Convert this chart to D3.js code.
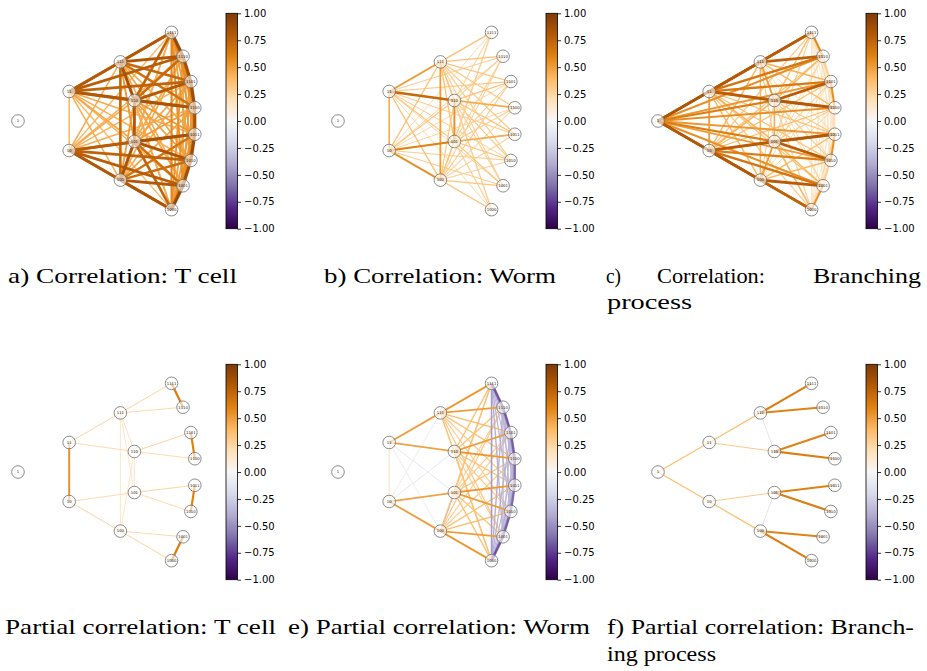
<!DOCTYPE html>
<html>
<head>
<meta charset="utf-8">
<script src="https://cdn.jsdelivr.net/npm/d3@7"></script>
<style>
  body { margin: 0; background: #fff; }
  svg { display: block; }
  .cap { font-family: "Liberation Serif", "Times New Roman", Times, serif; font-size: 22px; font-weight: 400; }
</style>
</head>
<body>
<svg id="fig" width="927" height="671"></svg>
<script>
// cell labels of the binary lineage tree (root "1", children append 0/1)
var nodeNames = ["1", "10", "11", "100", "101", "110", "111",
                 "1000", "1001", "1010", "1011", "1100", "1101", "1110", "1111"];

// upper triangles: row i holds the values for nodes i+1 .. 14 (same order as nodeNames)
var corrTcell = [
  [0, 0, 0, 0, 0, 0, 0, 0, 0, 0, 0, 0, 0, 0],
  [0.42, 0.80, 0.78, 0.45, 0.44, 0.76, 0.78, 0.75, 0.77, 0.44, 0.42, 0.43, 0.40],
  [0.43, 0.46, 0.80, 0.79, 0.40, 0.42, 0.43, 0.45, 0.77, 0.75, 0.78, 0.76],
  [0.83, 0.50, 0.72, 0.82, 0.80, 0.70, 0.66, 0.48, 0.45, 0.46, 0.44],
  [0.80, 0.52, 0.74, 0.68, 0.82, 0.84, 0.50, 0.47, 0.45, 0.44],
  [0.84, 0.45, 0.47, 0.48, 0.52, 0.83, 0.80, 0.70, 0.74],
  [0.43, 0.44, 0.47, 0.45, 0.68, 0.72, 0.82, 0.80],
  [0.90, 0.62, 0.55, 0.50, 0.48, 0.52, 0.58],
  [0.86, 0.60, 0.52, 0.50, 0.48, 0.54],
  [0.88, 0.58, 0.52, 0.50, 0.48],
  [0.85, 0.60, 0.52, 0.50],
  [0.88, 0.62, 0.56],
  [0.86, 0.60],
  [0.90]
];

var corrWorm = [
  [0, 0, 0, 0, 0, 0, 0, 0, 0, 0, 0, 0, 0, 0],
  [0.45, 0.55, 0.60, 0.32, 0.36, 0.28, 0.30, 0.29, 0.28, 0.27, 0.26, 0.27, 0.25],
  [0.36, 0.32, 0.72, 0.50, 0.26, 0.27, 0.28, 0.29, 0.30, 0.32, 0.29, 0.27],
  [0.36, 0.32, 0.50, 0.32, 0.34, 0.30, 0.29, 0.28, 0.30, 0.29, 0.28],
  [0.55, 0.36, 0.30, 0.32, 0.34, 0.45, 0.30, 0.29, 0.28, 0.29],
  [0.36, 0.29, 0.30, 0.32, 0.34, 0.45, 0.36, 0.30, 0.28],
  [0.28, 0.29, 0.30, 0.32, 0.32, 0.34, 0.36, 0.35],
  [0, 0, 0, 0, 0, 0, 0],
  [0, 0, 0, 0, 0, 0],
  [0, 0, 0, 0, 0],
  [0, 0, 0, 0],
  [0, 0, 0],
  [0, 0],
  [0]
];

var corrBranching = [
  [0.80, 0.82, 0.68, 0.62, 0.62, 0.70, 0.70, 0.55, 0.50, 0.52, 0.55, 0.52, 0.55, 0.72],
  [0.50, 0.80, 0.78, 0.42, 0.40, 0.65, 0.66, 0.62, 0.64, 0.36, 0.35, 0.34, 0.33],
  [0.40, 0.42, 0.78, 0.80, 0.33, 0.34, 0.35, 0.36, 0.63, 0.64, 0.66, 0.65],
  [0.50, 0.30, 0.42, 0.75, 0.78, 0.40, 0.38, 0.25, 0.24, 0.26, 0.28],
  [0.45, 0.32, 0.42, 0.40, 0.78, 0.80, 0.30, 0.28, 0.25, 0.24],
  [0.50, 0.24, 0.26, 0.30, 0.32, 0.80, 0.78, 0.40, 0.38],
  [0.28, 0.26, 0.25, 0.24, 0.40, 0.42, 0.76, 0.78],
  [0.55, 0.28, 0.27, 0.20, 0.18, 0.20, 0.22],
  [0.30, 0.28, 0.20, 0.20, 0.18, 0.20],
  [0.55, 0.22, 0.20, 0.20, 0.18],
  [0.25, 0.22, 0.20, 0.20],
  [0.55, 0.28, 0.26],
  [0.30, 0.28],
  [0.58]
];

var pcorrWorm = [
  [0, 0, 0, 0, 0, 0, 0, 0, 0, 0, 0, 0, 0, 0],
  [0.22, 0.50, 0.48, -0.15, -0.12, 0, 0, 0, 0, 0, 0, 0, 0],
  [-0.12, -0.15, 0.48, 0.50, 0, 0, 0, 0, 0, 0, 0, 0],
  [-0.35, 0, 0, 0.52, 0.50, 0.38, 0.35, 0.32, 0.30, 0.33, 0.36],
  [0, 0, 0.36, 0.35, 0.50, 0.52, 0.34, 0.32, 0.30, 0.33],
  [0.22, 0.33, 0.30, 0.32, 0.34, 0.52, 0.50, 0.35, 0.36],
  [0.36, 0.33, 0.30, 0.32, 0.35, 0.38, 0.50, 0.52],
  [-0.68, -0.42, -0.36, -0.34, -0.36, -0.38, -0.45],
  [-0.65, -0.42, -0.36, -0.34, -0.36, -0.38],
  [-0.62, -0.42, -0.36, -0.34, -0.36],
  [-0.62, -0.42, -0.36, -0.34],
  [-0.65, -0.42, -0.36],
  [-0.66, -0.42],
  [-0.68]
];

// sparse panels as edge lists [source, target, value]
var pcorrTcell = [
  ["10", "11", 0.55],
  ["11", "111", 0.27], ["11", "110", 0.25], ["10", "101", 0.25], ["10", "100", 0.27],
  ["111", "110", 0.22], ["111", "100", 0.20], ["111", "101", 0.20],
  ["110", "101", 0.22], ["110", "100", 0.20],
  ["111", "1111", 0.27], ["111", "1110", 0.25], ["110", "1101", 0.27], ["110", "1100", 0.25],
  ["101", "1011", 0.27], ["101", "1010", 0.25], ["100", "1001", 0.25], ["100", "1000", 0.27],
  ["1111", "1110", 0.62], ["1101", "1100", 0.60], ["1011", "1010", 0.60], ["1001", "1000", 0.62]
];

var pcorrBranching = [
  ["1", "11", 0.36], ["1", "10", 0.36],
  ["11", "111", 0.36], ["11", "110", 0.32], ["10", "101", 0.32], ["10", "100", 0.36],
  ["111", "110", -0.17], ["101", "100", -0.17],
  ["111", "1111", 0.62], ["111", "1110", 0.60], ["110", "1101", 0.60], ["110", "1100", 0.62],
  ["101", "1011", 0.60], ["101", "1010", 0.62], ["100", "1001", 0.60], ["100", "1000", 0.62]
];

var cbarTicks = [-1, -0.75, -0.5, -0.25, 0, 0.25, 0.5, 0.75, 1];

var captionsTop = ["a) Correlation: T cell", "b) Correlation: Worm"];
var captionsBottom = ["Partial correlation: T cell", "e) Partial correlation: Worm",
                      "f) Partial correlation: Branch-", "ing process"];

// PuOr, purple (-1) to brown (+1)
var puor = ["#2d004b", "#542788", "#8073ac", "#b2abd2", "#d8daeb", "#f7f7f7",
            "#fee0b6", "#fdb863", "#e08214", "#b35806", "#7f3b08"];

var color = d3.scaleLinear()
    .domain(d3.range(11).map(function(i){ return -1 + i * 0.2; }))
    .range(puor)
    .interpolate(d3.interpolateRgb);

function matrixEdges(rows) {
  var out = [];
  rows.forEach(function(row, i){
    row.forEach(function(v, k){
      var j = i + 1 + k;
      if (v !== 0) out.push([nodeNames[i], nodeNames[j], v]);
    });
  });
  return out;
}

// radial tree layout: depth -> radius, rank in level -> angle
var radius = d3.scaleLinear().domain([0, 3]).range([0, 177.3]);

function layout(rootX, rootY) {
  var pos = {};
  nodeNames.forEach(function(name){
    var d = name.length - 1,
        n = Math.pow(2, d),
        rank = (Math.pow(2, d + 1) - 1) - parseInt(name, 2);
    var ang = d === 0 ? 0 : d3.scaleLinear().domain([0, n - 1]).range([-30, 30])(rank);
    var a = ang * Math.PI / 180;
    pos[name] = [rootX + radius(d) * Math.cos(a), rootY + radius(d) * Math.sin(a)];
  });
  return pos;
}

var svg = d3.select("#fig");

var grad = svg.append("defs").append("linearGradient")
    .attr("id", "puor")
    .attr("x1", 0).attr("y1", 1).attr("x2", 0).attr("y2", 0);
grad.selectAll("stop").data(puor).join("stop")
    .attr("offset", function(d, i){ return i / 10; })
    .attr("stop-color", function(d){ return d; });

var panels = [
  {edges: matrixEdges(corrTcell), x0: 0, y0: 0},
  {edges: matrixEdges(corrWorm), x0: 320, y0: 0},
  {edges: matrixEdges(corrBranching), x0: 640, y0: 0},
  {edges: pcorrTcell, x0: 0, y0: 351},
  {edges: matrixEdges(pcorrWorm), x0: 320, y0: 351},
  {edges: pcorrBranching, x0: 640, y0: 351}
];

var width = d3.scaleLinear().domain([0, 1]).range([0, 3.6]);

panels.forEach(function(p){
  var g = svg.append("g").attr("transform", "translate(" + p.x0 + "," + p.y0 + ")");
  var pos = layout(18, 121);

  var edges = p.edges.slice().sort(function(a, b){ return Math.abs(a[2]) - Math.abs(b[2]); });

  g.append("g").selectAll("line").data(edges).join("line")
      .attr("x1", function(d){ return pos[d[0]][0]; })
      .attr("y1", function(d){ return pos[d[0]][1]; })
      .attr("x2", function(d){ return pos[d[1]][0]; })
      .attr("y2", function(d){ return pos[d[1]][1]; })
      .attr("stroke", function(d){ return color(d[2]); })
      .attr("stroke-width", function(d){ return Math.max(0.8, width(Math.abs(d[2]))); });

  var nodes = g.append("g").selectAll("g").data(nodeNames).join("g")
      .attr("transform", function(d){ return "translate(" + pos[d][0] + "," + pos[d][1] + ")"; });
  nodes.append("circle")
      .attr("r", 6.3)
      .attr("fill", "#fff")
      .attr("fill-opacity", 0.6)
      .attr("stroke", "#6f6f6f")
      .attr("stroke-width", 0.8);
  nodes.append("text")
      .attr("text-anchor", "middle")
      .attr("dy", "0.35em")
      .style("font-family", "DejaVu Sans")
      .style("font-size", "3.8px")
      .attr("fill", "#222")
      .text(function(d){ return d; });

  // colorbar
  var cy = d3.scaleLinear().domain([-1, 1]).range([228.7, 13.3]);
  var cb = g.append("g").attr("transform", "translate(226,0)");
  cb.append("rect")
      .attr("x", 0).attr("y", cy(1))
      .attr("width", 11.5).attr("height", cy(-1) - cy(1))
      .attr("fill", "url(#puor)");
  var axis = cb.append("g")
      .attr("transform", "translate(11.5,0)")
      .call(d3.axisRight(cy).tickValues(cbarTicks).tickFormat(d3.format(".2f")).tickSize(3.5).tickPadding(3));
  axis.select(".domain").remove();
  axis.selectAll("line").attr("stroke", "#000").attr("stroke-width", 0.8);
  axis.selectAll("text")
      .style("font-family", "DejaVu Sans")
      .style("font-size", "10px")
      .attr("fill", "#000");
  cb.append("rect")
      .attr("x", 0).attr("y", cy(1))
      .attr("width", 11.5).attr("height", cy(-1) - cy(1))
      .attr("fill", "none")
      .attr("stroke", "#000")
      .attr("stroke-width", 0.8);
});

// captions (LaTeX subcaptions under each panel)
function caption(str, x, x2, y) {
  svg.append("text")
      .attr("class", "cap")
      .attr("x", x).attr("y", y)
      .attr("textLength", x2 - x)
      .attr("lengthAdjust", "spacingAndGlyphs")
      .attr("fill", "#000")
      .text(str);
}

caption(captionsTop[0], 8, 237, 283);
caption(captionsTop[1], 324, 556, 283);
caption("c)", 606, 621, 283);
caption("Correlation:", 657, 765, 283);
caption("Branching", 813, 921, 283);
caption("process", 607, 692, 309);

caption(captionsBottom[0], 5, 276, 634);
caption(captionsBottom[1], 288, 590, 634);
caption(captionsBottom[2], 607, 914, 634);
caption(captionsBottom[3], 607, 716, 661);
</script>
</body>
</html>
